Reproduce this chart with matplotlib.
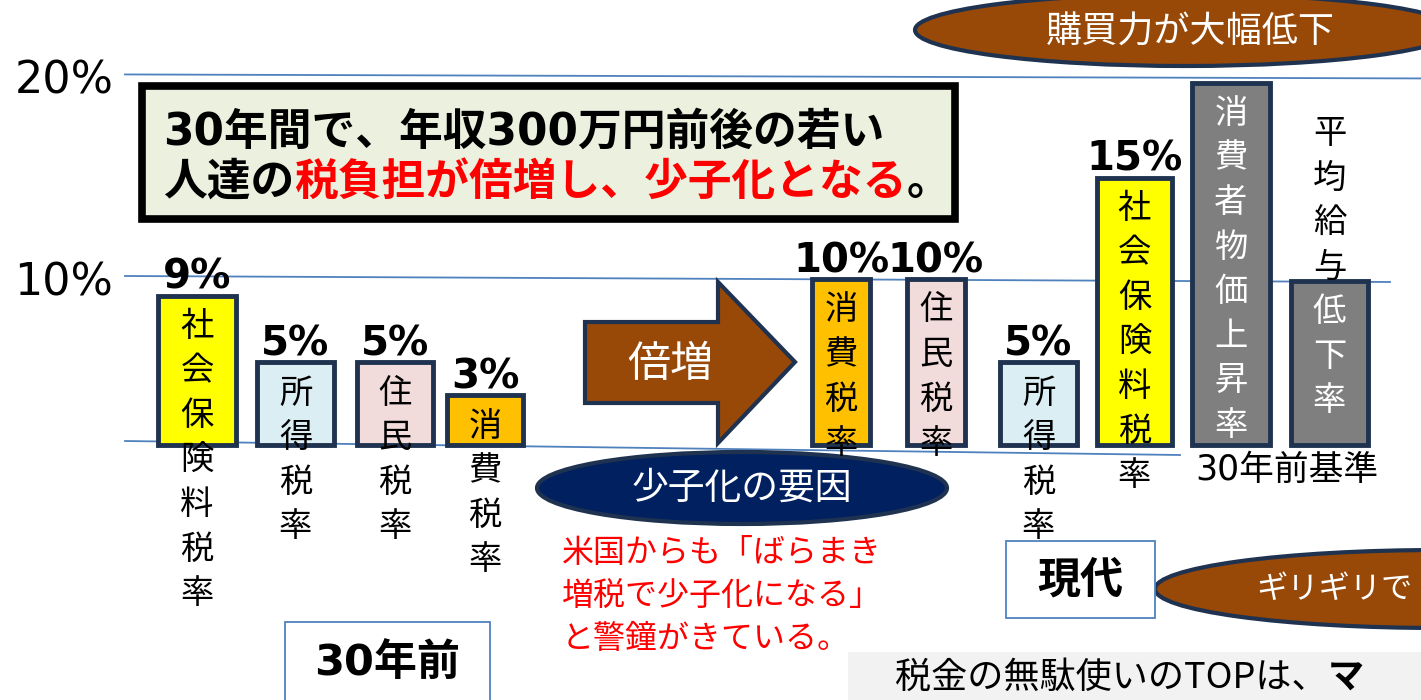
import numpy as np
import matplotlib
matplotlib.use('Agg')
import matplotlib.pyplot as plt
from matplotlib import patches, transforms

plt.rcParams['font.family'] = ['Noto Sans CJK JP', 'DejaVu Sans']

W, H = 1421, 700

# chart data
categories = ['社会保険料税率', '所得税率', '住民税率', '消費税率',
              '消費税率', '住民税率', '所得税率', '社会保険料税率',
              '消費者物価上昇率', '平均給与低下率']
values = [9, 5, 5, 3, 10, 10, 5, 15, 19.7, 9.9]
value_labels = ['9%', '5%', '5%', '3%', '10%', '10%', '5%', '15%', '', '']
ytick_vals = [10, 20]
ytick_labels = ['10%', '20%']

# layout / styles
bar_left = [158, 257, 357, 447, 812, 907, 1000, 1097, 1192, 1291]
bar_width = [78, 77, 76, 76, 58, 58, 77, 75, 78, 77]
bar_color = ['#FFFF00', '#DAEEF3', '#F2DCDB', '#FFC000', '#FFC000',
             '#F2DCDB', '#DAEEF3', '#FFFF00', '#7F7F7F', '#7F7F7F']
text_color = ['black'] * 8 + ['white'] * 2
chars_above = [0] * 9 + [4]
edge = '#1F3350'
brown = '#984807'
navy = '#002060'
gridc = '#4F81BD'

# the drawing uses a wider step between 10% and 20% than between 0 and 10%
k = 20.5 / 16.8


def fwd(y):
    y = np.asarray(y, float)
    return np.where(y <= 10, y, 10 + (y - 10) * k)


def inv(t):
    t = np.asarray(t, float)
    return np.where(t <= 10, t, 10 + (t - 10) / k)


fig = plt.figure(figsize=(W / 100, H / 100), dpi=100)
ax = fig.add_axes([0, 0, 1, 1])
ax.set_yscale('function', functions=(fwd, inv))
y0, step = 445, 16.6
ax.set_xlim(0, W)
ax.set_ylim(-(H - y0) / step, float(inv(y0 / step)))
ax.axis('off')

# pixel coordinates, origin top-left
T = transforms.Affine2D().scale(1 / W, -1 / H).translate(0, 1) + fig.transFigure
renderer = fig.canvas.get_renderer()


def ypx(v):
    return H - ax.transData.transform((0, v))[1]


# grid lines (slightly tilted like the original slide)
grid_vals = [0, 10, 20]
grid_end = [1180, 1390, 1421]
grid_tilt = [(-4, 10), (-3, 3), (-2, 2)]
for v, xe, (d0, d1) in zip(grid_vals, grid_end, grid_tilt):
    ax.plot([125, xe], [ypx(v) + d0, ypx(v) + d1], color=gridc, lw=1.3,
            transform=T, zorder=1)
for v, lbl in zip(ytick_vals, ytick_labels):
    ax.annotate(lbl, (64, v), xytext=(0, -3), textcoords='offset points',
                ha='center', va='center', fontsize=32, family=['DejaVu Sans'])

# bars
ax.bar(bar_left, values, width=bar_width, align='edge', color=bar_color,
       edgecolor=edge, linewidth=3.5, zorder=3)

for i, cat in enumerate(categories):
    cx = bar_left[i] + bar_width[i] / 2
    top, bottom = ypx(values[i]), ypx(0)
    for j, ch in enumerate(cat):
        y = top + 31 + (j - chars_above[i]) * 44.5
        inside = top < y < bottom
        ax.text(cx, y, ch, transform=T, ha='center', va='center', fontsize=24,
                color=text_color[i] if inside else 'black', zorder=5)
    if value_labels[i]:
        ax.annotate(value_labels[i], (cx, values[i]), xytext=(0, 5),
                    textcoords='offset points', ha='center', va='baseline',
                    fontsize=29, fontweight='bold', family=['DejaVu Sans'],
                    zorder=5)

ax.text(1287, 470, '30年前基準', transform=T, ha='center', va='center',
        fontsize=25, family=['DejaVu Sans', 'Noto Sans CJK JP'], zorder=5)

# title box
ax.add_patch(patches.Rectangle((141.5, 85.5), 813, 133, transform=T,
                               fc='#EBF1DE', ec='black', lw=5.5, zorder=4))


def draw_line(x, y, segs, **kw):
    # segs: (text, colour, weight)
    for s, c, wt in segs:
        t = ax.text(x, y, s, color=c, fontweight=wt, transform=T, va='center',
                    ha='left', zorder=6, **kw)
        x += t.get_window_extent(renderer).width
    return x


tfont = dict(fontsize=31.5, family=['DejaVu Sans', 'Noto Sans CJK JP'])
draw_line(163, 132, [('30年間で、年収300万円前後の若い', 'black', 'bold')], **tfont)
draw_line(163, 182, [('人達の', 'black', 'bold'),
                     ('税負担が倍増し、少子化となる', 'red', 'bold'),
                     ('。', 'black', 'bold')], **tfont)

# arrow
arrow_pts = [(585, 322), (718, 322), (718, 282), (795, 362), (718, 443),
             (718, 403), (585, 403)]
ax.add_patch(patches.Polygon(arrow_pts, closed=True, transform=T, fc=brown,
                             ec=edge, lw=3, zorder=4))
ax.text(670, 365, '倍増', transform=T, ha='center', va='center', fontsize=31,
        color='white', zorder=6)

# ellipses
ax.add_patch(patches.Ellipse((1185, 30), 540, 72, transform=T, fc=brown,
                             ec=edge, lw=3, zorder=4))
ax.text(1190, 33, '購買力が大幅低下', transform=T, ha='center', va='center',
        fontsize=26, color='white', zorder=6)
ax.add_patch(patches.Ellipse((742, 488), 410, 72, transform=T, fc=navy,
                             ec=edge, lw=3, zorder=4))
ax.text(742, 488, '少子化の要因', transform=T, ha='center', va='center',
        fontsize=26.5, color='white', zorder=6)
ax.add_patch(patches.Ellipse((1440, 589), 570, 78, transform=T, fc=brown,
                             ec=edge, lw=3, zorder=4))
ax.text(1256, 589, 'ギリギリで', transform=T, ha='left', va='center',
        fontsize=22.5, color='white', zorder=6)

# red note
note_lines = ['米国からも「ばらまき', '増税で少子化になる」', 'と警鐘がきている。']
for n, line in enumerate(note_lines):
    ax.text(562, 553 + n * 43, line, transform=T, ha='left', va='center',
            fontsize=23, color='red', zorder=6)

# period boxes
ax.add_patch(patches.Rectangle((285, 622), 205, 90, transform=T, fc='white',
                               ec=gridc, lw=1.3, zorder=4))
ax.text(387, 663, '30年前', transform=T, ha='center', va='center', fontsize=31,
        fontweight='bold', family=['DejaVu Sans', 'Noto Sans CJK JP'], zorder=6)
ax.add_patch(patches.Rectangle((1006, 541), 149, 77, transform=T, fc='white',
                               ec=gridc, lw=1.3, zorder=4))
ax.text(1080, 580, '現代', transform=T, ha='center', va='center', fontsize=31,
        fontweight='bold', zorder=6)

# bottom banner
ax.add_patch(patches.Rectangle((848, 652), 600, 60, transform=T, fc='#F2F2F2',
                               ec='none', zorder=4))
draw_line(895, 678, [('税金の無駄使いのTOPは、', 'black', 'normal'),
                     ('マ', 'black', 'bold')], fontsize=26)

fig.savefig('out.png', dpi=100)
